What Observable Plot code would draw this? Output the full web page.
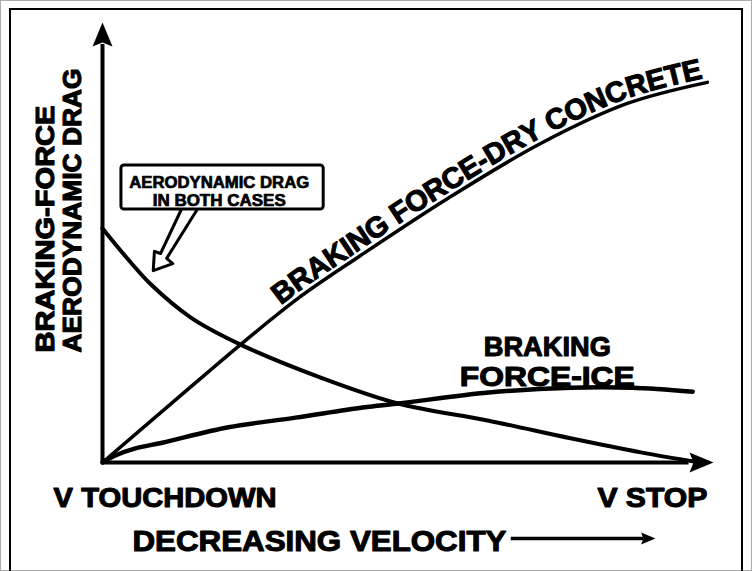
<!DOCTYPE html>
<html><head><meta charset="utf-8">
<script src="https://cdn.jsdelivr.net/npm/d3@7"></script>
<script src="https://cdn.jsdelivr.net/npm/@observablehq/plot@0.6"></script>
<style>
html,body{margin:0;padding:0;background:#fff;}
#wrap{position:relative;width:752px;height:571px;overflow:hidden;background:#fff;}
#wrap svg{position:absolute;left:0;top:0;display:block;}
#outer{position:absolute;left:0;top:0;width:750px;height:569px;border:1px solid #aaa;pointer-events:none;z-index:2;}
#frame{position:absolute;left:9px;top:8px;width:730px;height:620px;border:2px solid #000;pointer-events:none;z-index:2;}
</style></head><body>
<div id="wrap"><div id="outer"></div><div id="frame"></div></div>
<script>
// ---- data (x: 0 = V touchdown … 100 = V stop, y: relative force) ----
const aeroDragX = [0, 4.6, 7.9, 14.4, 22.6, 35.7, 48.4, 63.2, 76.6, 88.1, 97.7];
const aeroDragY = [53.2, 45.5, 40.5, 33.0, 26.8, 19.3, 13.4, 9.5, 5.5, 2.3, 0];
const dryX = [0, 11.1, 22.6, 32.0, 42.2, 56.5, 71.7, 85.9, 99.0];
const dryY = [0, 13.2, 26.8, 37.3, 47.0, 60.0, 72.5, 81.6, 86.4];
const iceX = [0, 2.1, 5.4, 9.8, 20.6, 31.6, 42.6, 48.4, 63.2, 76.6, 86.6, 96.6];
const iceY = [0, 1.6, 3.2, 4.5, 8.0, 10.2, 12.5, 13.4, 15.9, 17.0, 17.0, 16.1];

const xTickLabels = ["V TOUCHDOWN", "V STOP"];
const xTitle = "DECREASING VELOCITY";
const yTitleLines = ["BRAKING-FORCE", "AERODYNAMIC DRAG"];
const dryLabel = "BRAKING FORCE-DRY CONCRETE";
const iceLabelLines = ["BRAKING", "FORCE-ICE"];
const calloutLines = ["AERODYNAMIC DRAG", "IN BOTH CASES"];

// ---- layout ----
const W = 752, H = 571, ML = 102, MR = 39, MT = 22, MB = 109;
const FONT = "'Liberation Sans', Arial, Helvetica, sans-serif";
const xs = d3.scaleLinear([0, 100], [ML, W - MR]);
const ys = d3.scaleLinear([0, 100], [H - MB, MT]);

const toRows = (X, Y) => X.map((x, i) => ({x, y: Y[i]}));
const aero = toRows(aeroDragX, aeroDragY);
const dry = toRows(dryX, dryY);
const ice = toRows(iceX, iceY);

// label that follows the dry-concrete curve, placed glyph by glyph
function curveText(rows, text, fontSize, startPx, offset) {
  const pts = rows.map(d => [xs(d.x), ys(d.y)]);
  const dstr = d3.line().curve(d3.curveCatmullRom)(pts);
  const tmp = d3.select("body").append("svg").attr("width", 0).attr("height", 0);
  const path = tmp.append("path").attr("d", dstr).node();
  const total = path.getTotalLength();
  let s0 = 0;
  while (s0 < total && path.getPointAtLength(s0).x < startPx) s0 += 0.5;
  const sEnd = total - 3;
  const ctx = document.createElement("canvas").getContext("2d");
  ctx.font = `bold ${fontSize}px ${FONT}`;
  const chars = [...text];
  const widths = chars.map(c => ctx.measureText(c).width);
  const L = d3.sum(widths);
  const k = (sEnd - s0) / L;
  let s = s0;
  const out = [];
  chars.forEach((c, i) => {
    const adv = widths[i] * k;
    const sc = s + adv / 2;
    const p = path.getPointAtLength(sc);
    const a = path.getPointAtLength(Math.max(0, sc - 3));
    const b = path.getPointAtLength(Math.min(total, sc + 3));
    const th = Math.atan2(b.y - a.y, b.x - a.x);
    const px = p.x + offset * Math.sin(th);
    const py = p.y - offset * Math.cos(th);
    out.push({ch: c, x: xs.invert(px), y: ys.invert(py), rot: th * 180 / Math.PI});
    s += adv;
  });
  tmp.remove();
  return out;
}
const dryChars = curveText(dry, dryLabel, 29, 283, 5);

const arrowHead = {
  draw(ctx, size) {
    const r = Math.sqrt(size / Math.PI);
    ctx.moveTo(0, 0);
    ctx.lineTo(r, 2.4 * r);
    ctx.lineTo(0, 2.0 * r);
    ctx.lineTo(-r, 2.4 * r);
    ctx.closePath();
  }
};

const heavy = {fontWeight: "bold", fill: "black", stroke: "black", strokeWidth: 1.1, fontFamily: FONT};

const plot = Plot.plot({
  width: W, height: H,
  marginLeft: ML, marginRight: MR, marginTop: MT, marginBottom: MB,
  x: {domain: [0, 100], axis: null},
  y: {domain: [0, 100], axis: null},
  style: {background: "transparent", fontFamily: FONT},
  marks: [
    // axes with arrowheads
    Plot.ruleX([0], {y1: 0, y2: 95, strokeWidth: 4, stroke: "black"}),
    Plot.ruleY([0], {x1: 0, x2: 96, strokeWidth: 4, stroke: "black"}),
    Plot.dot([{x: 0, y: 100}], {x: "x", y: "y", r: 10, symbol: arrowHead, fill: "black", stroke: null, rotate: 0}),
    Plot.dot([{x: 100, y: 0}], {x: "x", y: "y", r: 10, symbol: arrowHead, fill: "black", stroke: null, rotate: 90}),
    // curves
    Plot.line(aero, {x: "x", y: "y", curve: "catmull-rom", stroke: "black", strokeWidth: 4, strokeLinecap: "round"}),
    Plot.line(dry, {x: "x", y: "y", curve: "catmull-rom", stroke: "black", strokeWidth: 3.5, strokeLinecap: "round"}),
    Plot.line(ice, {x: "x", y: "y", curve: "catmull-rom", stroke: "black", strokeWidth: 4.5, strokeLinecap: "round"}),
    // callout
    Plot.rect([0], {x1: 3.1, x2: 36.2, y1: 57.5, y2: 67.5, fill: "white", stroke: "black", strokeWidth: 3, rx: 3}),
    Plot.line([[12.9, 57.5], [9.5, 47.5], [8.5, 48.0], [8.3, 43.6], [11.5, 45.2], [10.5, 46.4], [15.5, 57.5]],
      {x: d => d[0], y: d => d[1], stroke: "black", strokeWidth: 3, strokeLinejoin: "round"}),
    Plot.text(calloutLines, {x: 19.1, y: (d, i) => [62.3, 58.4][i], text: d => d, lineAnchor: "bottom",
      fontSize: 16, ...heavy, strokeWidth: 0.7}),
    // dry-concrete label along the curve
    Plot.text(dryChars, {x: "x", y: "y", text: "ch", rotate: "rot", textAnchor: "middle", lineAnchor: "bottom",
      fontSize: 29, ...heavy}),
    // ice label
    Plot.text(iceLabelLines, {x: 72.8, y: (d, i) => [24.1, 17.5][i], text: d => d, textAnchor: "middle",
      lineAnchor: "bottom", fontSize: 28, ...heavy}),
    // y-axis title (two rotated lines)
    Plot.text(yTitleLines, {x: (d, i) => [-7.9, -3.5][i], y: 25, text: d => d, rotate: -90, textAnchor: "start",
      lineAnchor: "bottom", fontSize: 25, ...heavy}),
    // x tick labels
    Plot.text([xTickLabels[0]], {x: -8.0, y: -10.0, text: d => d, textAnchor: "start", lineAnchor: "bottom", fontSize: 28, ...heavy}),
    Plot.text([xTickLabels[1]], {x: 99.0, y: -10.0, text: d => d, textAnchor: "end", lineAnchor: "bottom", fontSize: 28, ...heavy}),
    // x title with arrow
    Plot.text([xTitle], {x: 4.9, y: -20.0, text: d => d, textAnchor: "start", lineAnchor: "bottom", fontSize: 30, ...heavy}),
    Plot.ruleY([-17.3], {x1: 66.9, x2: 88.6, strokeWidth: 3.5, stroke: "black"}),
    Plot.dot([{x: 90.5, y: -17.3}], {x: "x", y: "y", r: 6, symbol: arrowHead, fill: "black", stroke: null, rotate: 90})
  ]
});

// fit label lengths to the reference
const lengths = {
  "V TOUCHDOWN": 223, "V STOP": 110, "DECREASING VELOCITY": 374,
  "BRAKING-FORCE": 247, "AERODYNAMIC DRAG": 284, "BRAKING": 127, "FORCE-ICE": 175,
  "IN BOTH CASES": 133
};
const calloutLengths = {"AERODYNAMIC DRAG": 180};
d3.select(plot).selectAll("text").each(function() {
  if (this.querySelector("tspan")) return;
  const t = this.textContent;
  const fs = +(this.getAttribute("font-size") || this.parentNode.getAttribute("font-size") || 0);
  let len = lengths[t];
  if (t === "AERODYNAMIC DRAG" && fs === 16) len = calloutLengths[t];
  if (len) d3.select(this).attr("textLength", len).attr("lengthAdjust", "spacingAndGlyphs");
});

document.getElementById("wrap").prepend(plot);
</script>
</body></html>
